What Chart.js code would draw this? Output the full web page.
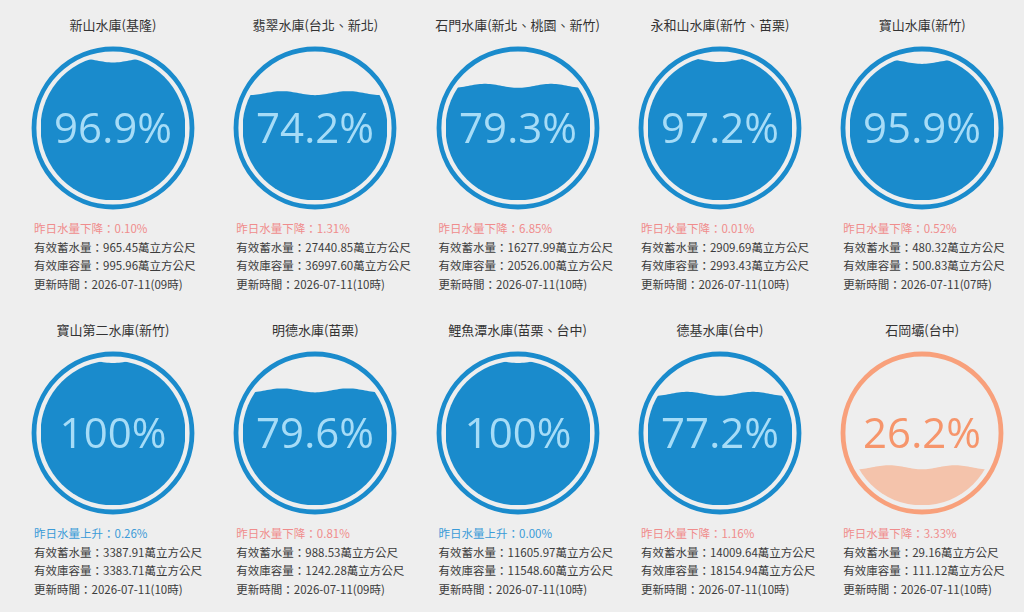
<!DOCTYPE html>
<html>
<head>
<meta charset="utf-8">
<script src="https://cdn.jsdelivr.net/npm/chart.js@4"></script>
<style>
  html, body { margin: 0; padding: 0; background: #eeeeee; }
  body { width: 1024px; height: 612px; position: relative; overflow: hidden;
         font-family: "Noto Sans CJK TC", "Noto Sans", sans-serif; }
  .title { position: absolute; width: 200px; text-align: center; font-size: 13px; color: #333; line-height: 18px; }
  .gauge { position: absolute; }
  .info { position: absolute; font-size: 11.5px; line-height: 18.7px; color: #3c3c3c; white-space: nowrap; }
  .down { color: #f08c8c; }
  .up { color: #3b9bd8; }
</style>
</head>
<body>
<script>
// Reservoir data
const names = ['新山水庫(基隆)', '翡翠水庫(台北、新北)', '石門水庫(新北、桃園、新竹)', '永和山水庫(新竹、苗栗)', '寶山水庫(新竹)',
               '寶山第二水庫(新竹)', '明德水庫(苗栗)', '鯉魚潭水庫(苗栗、台中)', '德基水庫(台中)', '石岡壩(台中)'];
const percents = [96.9, 74.2, 79.3, 97.2, 95.9, 100, 79.6, 100, 77.2, 26.2];
const changeDir = ['下降', '下降', '下降', '下降', '下降', '上升', '下降', '上升', '下降', '下降'];
const changes = ['0.10', '1.31', '6.85', '0.01', '0.52', '0.26', '0.81', '0.00', '1.16', '3.33'];
const storage = ['965.45', '27440.85', '16277.99', '2909.69', '480.32', '3387.91', '988.53', '11605.97', '14009.64', '29.16'];
const capacity = ['995.96', '36997.60', '20526.00', '2993.43', '500.83', '3383.71', '1242.28', '11548.60', '18154.94', '111.12'];
const updated = ['2026-07-11(09時)', '2026-07-11(10時)', '2026-07-11(10時)', '2026-07-11(10時)', '2026-07-11(07時)',
                 '2026-07-11(10時)', '2026-07-11(09時)', '2026-07-11(10時)', '2026-07-11(10時)', '2026-07-11(10時)'];

const blue = { ring: '#1a8bcc', fill: '#1a8bcc', text: '#a6dcf7' };
const orange = { ring: '#f8a07b', fill: '#f4c3ab', text: '#f6956b' };

const SIZE = 170;
const PAD = 13;

// draws ring, wavy water (from the bar element) and the percent label
const liquidPlugin = {
  id: 'liquid',
  beforeDatasetsDraw(chart) {
    const c = chart.ctx;
    const a = chart.chartArea;
    const cx = (a.left + a.right) / 2, cy = (a.top + a.bottom) / 2;
    const col = chart.options.plugins.liquid;
    c.save();
    c.beginPath();
    c.arc(cx, cy, 79, 0, Math.PI * 2);
    c.lineWidth = 4.8;
    c.strokeStyle = col.ring;
    c.stroke();
    c.restore();
  },
  afterDatasetsDraw(chart) {
    const c = chart.ctx;
    const a = chart.chartArea;
    const cx = (a.left + a.right) / 2, cy = (a.top + a.bottom) / 2;
    const col = chart.options.plugins.liquid;
    const bar = chart.getDatasetMeta(0).data[0];
    const left = bar.x - bar.width / 2, right = bar.x + bar.width / 2;
    c.save();
    c.beginPath();
    c.arc(cx, cy, 72.5, 0, Math.PI * 2);
    c.clip();
    c.beginPath();
    c.moveTo(left, bar.base);
    for (let x = left; x <= right; x += 2) {
      c.lineTo(x, bar.y + 2 * Math.sin((x - left) / 66 * Math.PI * 2 + 1.0));
    }
    c.lineTo(right, bar.base);
    c.closePath();
    c.fillStyle = col.fill;
    c.fill();
    c.restore();

    c.save();
    c.font = '42px "Open Sans"';
    c.fillStyle = col.text;
    c.textAlign = 'center';
    c.textBaseline = 'alphabetic';
    c.fillText(chart.data.datasets[0].data[0] + '%', cx, cy + 15);
    c.restore();
  }
};

function createGauge(i) {
  const col = i % 5, row = Math.floor(i / 5);
  const cx = 113 + col * 202.3;
  const cy = 128 + row * 305;
  const theme = percents[i] < 50 ? orange : blue;

  const title = document.createElement('div');
  title.className = 'title';
  title.style.left = (cx - 100) + 'px';
  title.style.top = (16 + row * 305) + 'px';
  title.textContent = names[i];
  document.body.appendChild(title);

  const canvas = document.createElement('canvas');
  canvas.className = 'gauge';
  canvas.width = SIZE;
  canvas.height = SIZE;
  canvas.style.left = (cx - SIZE / 2) + 'px';
  canvas.style.top = (cy - SIZE / 2) + 'px';
  document.body.appendChild(canvas);

  const info = document.createElement('div');
  info.className = 'info';
  info.style.left = (cx - 79) + 'px';
  info.style.top = (219 + row * 305) + 'px';
  const cls = changeDir[i] === '上升' ? 'up' : 'down';
  info.innerHTML =
    '<div class="' + cls + '">昨日水量' + changeDir[i] + '：' + changes[i] + '%</div>' +
    '<div>有效蓄水量：' + storage[i] + '萬立方公尺</div>' +
    '<div>有效庫容量：' + capacity[i] + '萬立方公尺</div>' +
    '<div>更新時間：' + updated[i] + '</div>';
  document.body.appendChild(info);

  return new Chart(canvas.getContext('2d'), {
    type: 'bar',
    data: {
      labels: [names[i]],
      datasets: [{
        data: [percents[i]],
        backgroundColor: 'rgba(0,0,0,0)',
        borderWidth: 0,
        barPercentage: 1,
        categoryPercentage: 1
      }]
    },
    options: {
      responsive: false,
      animation: false,
      layout: { padding: PAD },
      plugins: {
        legend: { display: false },
        tooltip: { enabled: false },
        liquid: theme
      },
      scales: {
        x: { display: false },
        y: { display: false, min: 0, max: 100 }
      }
    },
    plugins: [liquidPlugin]
  });
}

document.addEventListener('DOMContentLoaded', function() {
  document.fonts.load('42px "Open Sans"').finally(function() {
    for (let i = 0; i < names.length; i++) {
      createGauge(i);
    }
  });
});
</script>
</body>
</html>
